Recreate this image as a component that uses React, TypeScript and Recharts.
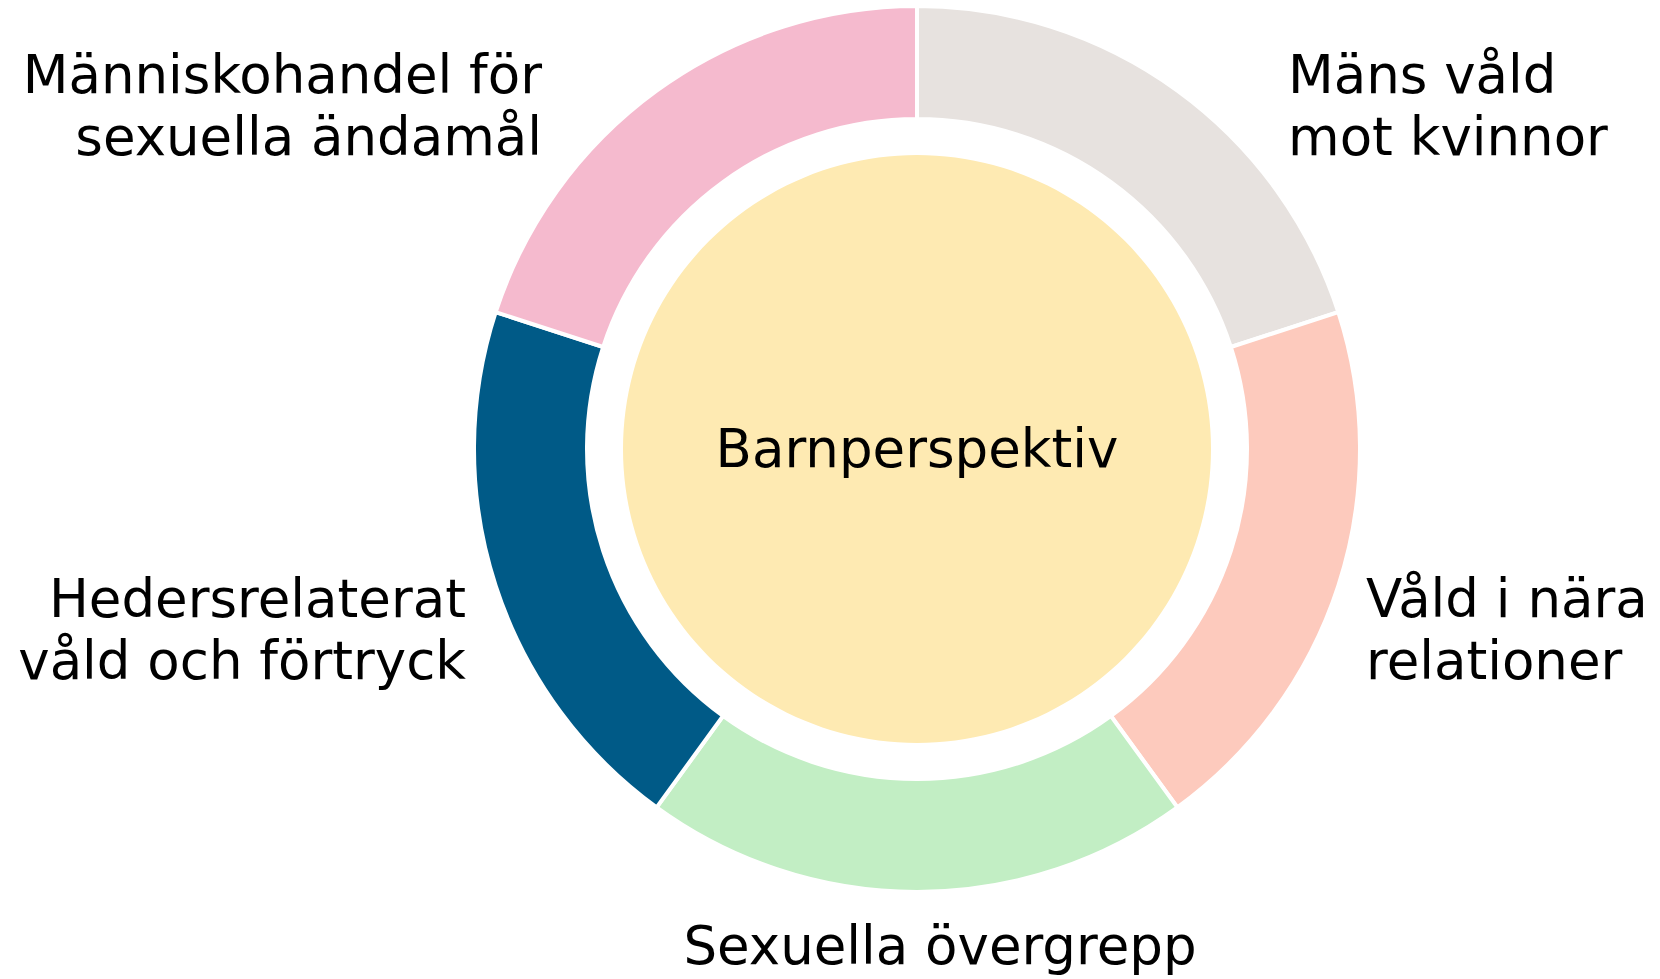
import { Cell, Pie, PieChart } from 'recharts'

const CATEGORIES = [
  ['Mäns våld', 'mot kvinnor'],
  ['Våld i nära', 'relationer'],
  ['Sexuella övergrepp'],
  ['Hedersrelaterat', 'våld och förtryck'],
  ['Människohandel för', 'sexuella ändamål'],
]
const SHARES = [1, 1, 1, 1, 1]
const RING_COLORS = ['#e7e2df', '#fdcabd', '#c2eec4', '#005a87', '#f5bace']

const CENTER_LABEL = 'Barnperspektiv'
const CENTER_VALUE = [1]
const CENTER_COLOR = '#feeab2'

const FONT = '"DejaVu Sans", Verdana, sans-serif'
const FONT_SIZE = 53
const LINE_GAP = 62

// label placement relative to the ring center
const LABEL_LAYOUT = [
  { anchor: 'start', dx: 371, dy: -356 },
  { anchor: 'start', dx: 449, dy: 168 },
  { anchor: 'middle', dx: 23, dy: 515 },
  { anchor: 'end', dx: -451, dy: 168 },
  { anchor: 'end', dx: -375, dy: -356 },
]

const ringData = CATEGORIES.map((lines, i) => ({
  name: lines.join(' '),
  lines,
  value: SHARES[i],
  color: RING_COLORS[i],
}))

const centerData = CENTER_VALUE.map((v) => ({ name: CENTER_LABEL, value: v }))

function RingLabel(props: any) {
  const { cx, cy, index } = props
  const layout = LABEL_LAYOUT[index]
  const lines: string[] = ringData[index].lines
  const x = cx + layout.dx
  return (
    <text
      x={x}
      y={cy + layout.dy}
      textAnchor={layout.anchor}
      fontSize={FONT_SIZE}
      fontFamily={FONT}
      fill="#000"
    >
      {lines.map((l, i) => (
        <tspan key={l} x={x} dy={i === 0 ? 0 : LINE_GAP}>
          {l}
        </tspan>
      ))}
    </text>
  )
}

function CenterLabel(props: any) {
  const { cx, cy } = props
  return (
    <text
      x={cx}
      y={cy + 18}
      textAnchor="middle"
      fontSize={FONT_SIZE}
      fontFamily={FONT}
      fill="#000"
    >
      {CENTER_LABEL}
    </text>
  )
}

export default function App() {
  return (
    <div style={{ position: 'absolute', left: 0, top: 0, background: '#fff' }}>
      <PieChart
        width={1660}
        height={979}
        margin={{ top: 0, right: 0, bottom: 0, left: 0 }}
      >
        <Pie
          data={ringData}
          dataKey="value"
          nameKey="name"
          cx={917}
          cy={449}
          innerRadius={330}
          outerRadius={443}
          startAngle={90}
          endAngle={-270}
          stroke="#fff"
          strokeWidth={4}
          label={RingLabel}
          labelLine={false}
          isAnimationActive={false}
        >
          {ringData.map((d) => (
            <Cell key={d.name} fill={d.color} />
          ))}
        </Pie>
        <Pie
          data={centerData}
          dataKey="value"
          nameKey="name"
          cx={917}
          cy={449}
          innerRadius={0}
          outerRadius={294}
          startAngle={90}
          endAngle={-270}
          stroke="none"
          fill={CENTER_COLOR}
          label={CenterLabel}
          labelLine={false}
          isAnimationActive={false}
        />
      </PieChart>
    </div>
  )
}
